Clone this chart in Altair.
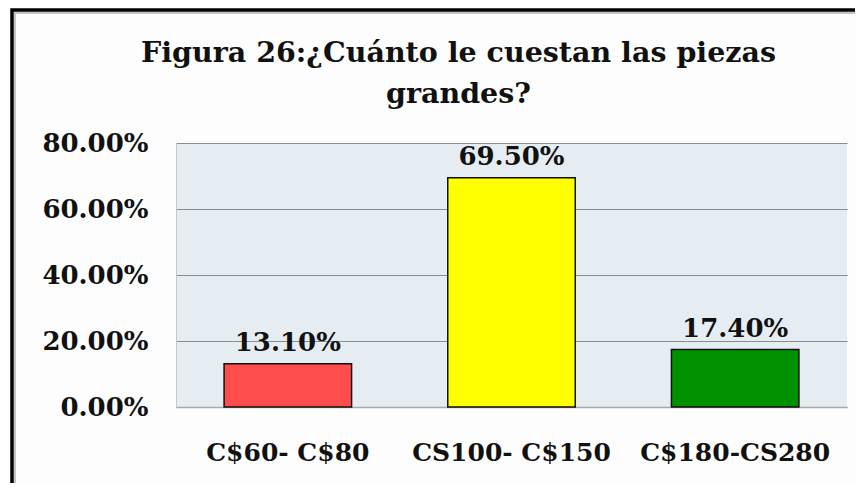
import altair as alt
import pandas as pd

categories = ["C$60- C$80", "CS100- C$150", "C$180-CS280"]
values = [0.131, 0.695, 0.174]
colors = ["#ff4d4d", "#ffff00", "#009100"]
y_ticks = [0, 0.2, 0.4, 0.6, 0.8]
title_lines = ["Figura 26:¿Cuánto le cuestan las piezas", "grandes?"]

df = pd.DataFrame({"cat": categories, "val": values, "color": colors})

FONT = "DejaVu Serif"

x_enc = alt.X(
    "cat:N", sort=categories, title=None,
    scale=alt.Scale(paddingInner=0.43, paddingOuter=0.215),
    axis=alt.Axis(labelAngle=0, labelFont=FONT, labelFontSize=25, labelFontWeight="bold",
                  labelColor="#111", labelPadding=33, labelLimit=400, ticks=False,
                  domainColor="#a8a8a8", domainWidth=1.5),
)
y_enc = alt.Y(
    "val:Q", title=None,
    scale=alt.Scale(domain=[0, 0.8], nice=False),
    axis=alt.Axis(values=y_ticks, format=".2%", labelFont=FONT, labelFontSize=26,
                  labelFontWeight="bold", labelColor="#111", labelPadding=28,
                  ticks=False, domainColor="#c8c8c8", gridColor="#8c8c8c", gridWidth=1.2),
)

bars = alt.Chart(df).mark_bar(stroke="#111", strokeWidth=1.5).encode(
    x=x_enc, y=y_enc, color=alt.Color("color:N", scale=None)
)
labels = alt.Chart(df).mark_text(
    baseline="bottom", dy=-8, font=FONT, fontSize=26, fontWeight="bold", color="#111"
).encode(x=alt.X("cat:N", sort=categories), y="val:Q", text=alt.Text("val:Q", format=".2%"))

frame_df = pd.DataFrame({"a": [0]})
frame_gray = alt.Chart(frame_df).mark_rect(fill="transparent", stroke="#b0b0b0", strokeWidth=1.5).encode(
    x=alt.value(-161), x2=alt.value(720), y=alt.value(-130), y2=alt.value(420)
)
frame = alt.Chart(frame_df).mark_rect(fill="transparent", stroke="black", strokeWidth=3.5).encode(
    x=alt.value(-164), x2=alt.value(720), y=alt.value(-133), y2=alt.value(420)
)

chart = alt.layer(bars, labels, frame_gray, frame).properties(
    width=671, height=264,
    title=alt.TitleParams(
        text=title_lines, font=FONT, fontSize=28.5, fontWeight="bold", color="#111",
        anchor="middle", frame="group", dx=-53, lineHeight=41, offset=-100,
    ),
    autosize=alt.AutoSizeParams(type="none"),
    padding={"left": 168, "top": 135, "right": 8, "bottom": 76},
    background="#fdfdfd",
).configure_view(fill="#e6edf2", stroke=None)

chart.save("out.html", embed_options={"renderer": "svg", "actions": False})
